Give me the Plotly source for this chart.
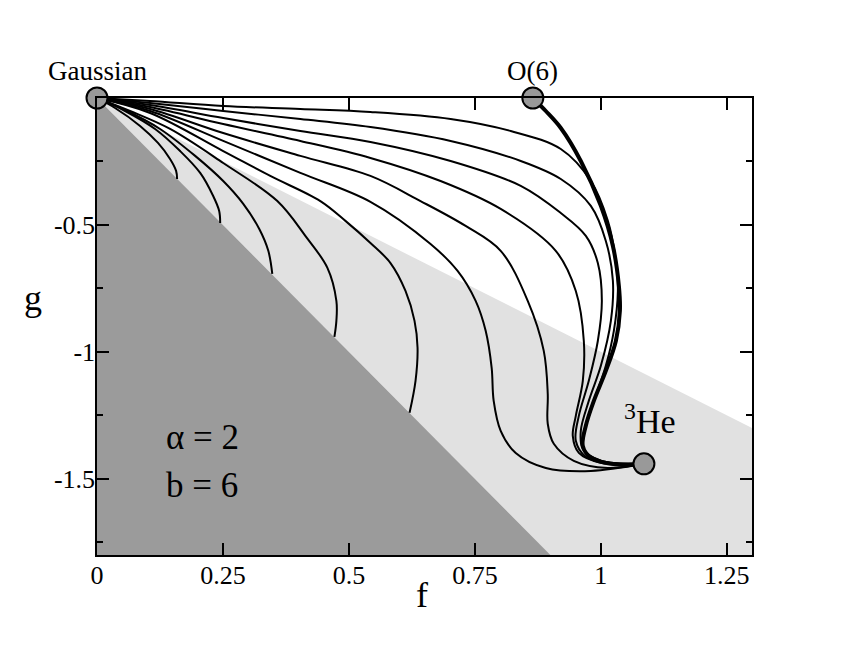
import plotly.graph_objects as go

# ---------------- data ----------------
# shaded regions (boundary lines g = -2f and g = -f)
dark_f = [0.0, 0.9, 0.0]
dark_g = [0.0, -1.8, -1.8]
light_f = [0.0, 1.3, 1.3, 0.9]
light_g = [0.0, -1.3, -1.8, -1.8]

# flows from Gaussian that end on the g = -2f line
curve_a_f = [0, 0.0358, 0.0855, 0.121, 0.145, 0.157, 0.159]
curve_a_g = [0, -0.0394, -0.110, -0.177, -0.240, -0.287, -0.319]

curve_b_f = [0, 0.0557, 0.1153, 0.165, 0.2048, 0.2306, 0.2425, 0.2445]
curve_b_g = [0, -0.0512, -0.122, -0.209, -0.295, -0.386, -0.445, -0.492]

curve_c_f = [0, 0.0557, 0.1252, 0.1948, 0.2505, 0.2903, 0.3221, 0.340, 0.3479]
curve_c_g = [0, -0.0472, -0.122, -0.228, -0.327, -0.417, -0.516, -0.602, -0.693]

curve_d_f = [0, 0.0656, 0.1451, 0.2505, 0.3579, 0.4135, 0.4573, 0.4751, 0.4751, 0.4712]
curve_d_g = [0, -0.0512, -0.122, -0.256, -0.406, -0.543, -0.669, -0.799, -0.878, -0.941]

curve_e_f = [0, 0.1054, 0.2505, 0.3439, 0.4433, 0.4930, 0.5427, 0.5825, 0.6123,
             0.6302, 0.6362, 0.6322, 0.6203]
curve_e_g = [0, -0.059, -0.209, -0.307, -0.406, -0.484, -0.571, -0.650, -0.760,
             -0.878, -0.984, -1.114, -1.240]

# flows from Gaussian that end at 3He
curve_f_f = [0, 0.1054, 0.2505, 0.4036, 0.5427, 0.6620, 0.7157, 0.7515, 0.7714,
             0.7833, 0.7873, 0.8012, 0.8310, 0.8907, 0.9801, 1.0855]
curve_f_g = [0, -0.0512, -0.169, -0.295, -0.409, -0.575, -0.681, -0.799, -0.917,
             -1.063, -1.193, -1.311, -1.398, -1.457, -1.469, -1.441]

curve_g_f = [0, 0.1054, 0.2505, 0.4036, 0.5427, 0.6421, 0.7316, 0.8012, 0.8549,
             0.8867, 0.8946, 0.8946, 0.9066, 0.9463, 1.0139, 1.0855]
curve_g_g = [0, -0.0433, -0.138, -0.228, -0.307, -0.406, -0.504, -0.602, -0.799,
             -0.996, -1.165, -1.283, -1.362, -1.429, -1.457, -1.441]

curve_h_f = [0, 0.1054, 0.2505, 0.4036, 0.5427, 0.6819, 0.8012, 0.9105, 0.9503,
             0.9662, 0.9642, 0.9503, 0.9443, 0.9563, 1.000, 1.0855]
curve_h_g = [0, -0.0354, -0.1024, -0.169, -0.236, -0.327, -0.437, -0.602, -0.760,
             -0.957, -1.114, -1.252, -1.331, -1.398, -1.437, -1.441]

curve_i_f = [0, 0.1054, 0.2505, 0.4036, 0.5427, 0.7018, 0.8410, 0.9205, 0.9702,
             0.9940, 1.002, 0.9940, 0.9761, 0.9563, 0.9503, 0.9702, 1.0199, 1.0855]
curve_i_g = [0, -0.0276, -0.0787, -0.130, -0.173, -0.248, -0.346, -0.453, -0.543,
             -0.650, -0.799, -0.957, -1.114, -1.252, -1.350, -1.413, -1.441, -1.441]

curve_j_f = [0, 0.1054, 0.2505, 0.4036, 0.5427, 0.7018, 0.8410, 0.9205, 0.9801,
             1.0099, 1.0239, 1.0199, 1.000, 0.9761, 0.9602, 0.9642, 1.000, 1.0855]
curve_j_g = [0, -0.0197, -0.0512, -0.0827, -0.1142, -0.169, -0.248, -0.319, -0.425,
             -0.563, -0.720, -0.878, -1.055, -1.193, -1.311, -1.382, -1.429, -1.441]

curve_k_f = [0, 0.1054, 0.2505, 0.4036, 0.5427, 0.7018, 0.8211, 0.9205, 0.9801,
             1.0139, 1.0298, 1.0338, 1.0258, 1.0099, 0.9861, 0.9682, 0.9662, 1.000, 1.0855]
curve_k_g = [0, -0.0118, -0.0315, -0.0433, -0.0551, -0.0827, -0.130, -0.201, -0.327,
             -0.484, -0.642, -0.760, -0.917, -1.055, -1.193, -1.311, -1.382, -1.429, -1.441]

# thick flow O(6) -> 3He
thick_f = [0.8648, 0.8907, 0.9205, 0.9602, 1.000, 1.0239, 1.0358, 1.0378, 1.0298,
           1.0099, 0.9861, 0.9702, 0.9642, 0.9801, 1.0199, 1.0855]
thick_g = [0, -0.0512, -0.1181, -0.248, -0.425, -0.583, -0.740, -0.839, -0.957,
           -1.075, -1.193, -1.291, -1.370, -1.417, -1.441, -1.441]

# fixed points
point_names = ["Gaussian", "O(6)", "3He"]
point_f = [0.0, 0.865, 1.0855]
point_g = [0.0, 0.0, -1.441]

x_tickvals = [0, 0.25, 0.5, 0.75, 1, 1.25]
x_ticktext = ["0", "0.25", "0.5", "0.75", "1", "1.25"]
y_tickvals = [-1.5, -1, -0.5]
y_ticktext = ["-1.5", "-1", "-0.5"]
y_minor_tickvals = [-1.75, -1.25, -0.75, -0.25]

# ---------------- figure ----------------
FONT = "Liberation Serif, Times New Roman, serif"
fig = go.Figure()

fig.add_trace(go.Scatter(x=light_f, y=light_g, fill="toself", mode="lines",
                         line=dict(width=0), fillcolor="#e1e1e1", hoverinfo="skip"))
fig.add_trace(go.Scatter(x=dark_f, y=dark_g, fill="toself", mode="lines",
                         line=dict(width=0), fillcolor="#9b9b9b", hoverinfo="skip"))

thin = [(curve_a_f, curve_a_g), (curve_b_f, curve_b_g), (curve_c_f, curve_c_g),
        (curve_d_f, curve_d_g), (curve_e_f, curve_e_g), (curve_f_f, curve_f_g),
        (curve_g_f, curve_g_g), (curve_h_f, curve_h_g), (curve_i_f, curve_i_g),
        (curve_j_f, curve_j_g), (curve_k_f, curve_k_g)]
for cf, cg in thin:
    fig.add_trace(go.Scatter(x=cf, y=cg, mode="lines",
                             line=dict(color="black", width=2, shape="spline", smoothing=1.0)))

fig.add_trace(go.Scatter(x=thick_f, y=thick_g, mode="lines",
                         line=dict(color="black", width=4, shape="spline", smoothing=1.0)))

fig.add_trace(go.Scatter(x=point_f, y=point_g, mode="markers", cliponaxis=False,
                         marker=dict(size=21, color="#999999",
                                     line=dict(color="black", width=2))))

ann = [
    dict(x=point_f[0], y=point_g[0], text="Gaussian", yanchor="bottom", yshift=10,
         font=dict(size=27)),
    dict(x=point_f[1], y=point_g[1], text="O(6)", yanchor="bottom", yshift=10,
         font=dict(size=27)),
    dict(x=1.098, y=-1.265, text="<sup>3</sup>He", font=dict(size=34)),
    dict(x=0.2087, y=-1.339, text="\u03b1 = 2", font=dict(size=35)),
    dict(x=0.2087, y=-1.528, text="b = 6", font=dict(size=35)),
    dict(x=0.496, y=-0.0875, xref="paper", yref="paper", text="f", font=dict(size=36)),
    dict(x=-0.0977, y=0.562, xref="paper", yref="paper", text="g", font=dict(size=36)),
]
for a in ann:
    a.setdefault("xref", "x")
    a.setdefault("yref", "y")
    a.setdefault("xanchor", "center")
    a.setdefault("yanchor", "middle")
    a["showarrow"] = False
    a["font"]["family"] = FONT
    a["font"]["color"] = "black"
fig.update_layout(annotations=ann)

axis_common = dict(showgrid=False, zeroline=False, showline=True, linecolor="black",
                   linewidth=1.5, mirror="ticks", ticks="inside", ticklen=12,
                   tickwidth=1.5, tickcolor="black",
                   tickfont=dict(family=FONT, size=26, color="black"))
fig.update_xaxes(range=[0, 1.3], tickvals=x_tickvals, ticktext=x_ticktext,
                 ticklabelstandoff=-4, **axis_common)
fig.update_yaxes(range=[-1.8, 0], tickvals=y_tickvals, ticktext=y_ticktext,
                 ticklabelstandoff=-5,
                 minor=dict(tickvals=y_minor_tickvals, ticks="inside",
                            ticklen=6, tickwidth=1.5, tickcolor="black"),
                 **axis_common)

fig.update_layout(width=838, height=646, showlegend=False,
                  plot_bgcolor="white", paper_bgcolor="white",
                  margin=dict(l=89, r=94, t=90, b=99))

fig.write_html("out.html")
